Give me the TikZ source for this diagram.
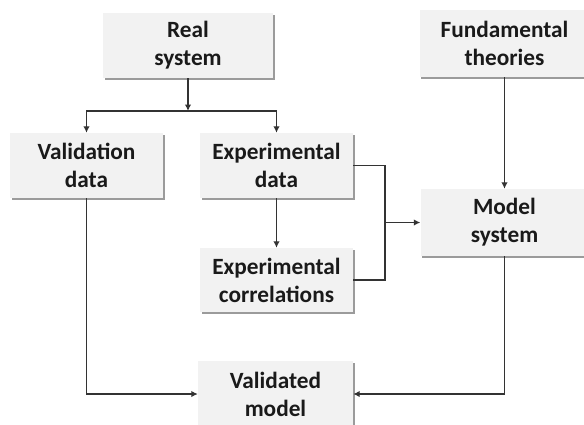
\documentclass[tikz,border=0pt]{standalone}
\usepackage{fontspec}
\setmainfont{Carlito}
\usetikzlibrary{arrows.meta,shadows}
\definecolor{boxfill}{HTML}{F2F2F2}
\definecolor{linec}{HTML}{333333}
\definecolor{textc}{HTML}{1A1A1A}
\begin{document}
\begin{tikzpicture}[x=1pt,y=-1pt,
  box/.style={rectangle, fill=boxfill, draw=none, inner sep=0pt, align=center,
    text=textc, font=\bfseries\fontsize{23.3}{28}\selectfont,
    drop shadow={shadow xshift=1.8pt, shadow yshift=-2pt, fill=black!65, opacity=0.6}},
  conn/.style={draw=linec, line width=1.6pt},
  arr/.style={conn, -{Latex[length=6.5pt,width=6.5pt]}}]
\useasboundingbox (0,0) rectangle (584,424);
\node[box, minimum width=170pt, minimum height=65pt] (real) at (188,45.5) {Real\\system};
\node[box, minimum width=170pt, minimum height=67pt] (fund) at (504.5,43.5) {Fundamental\\theories};
\node[box, minimum width=153pt, minimum height=65pt] (valid) at (86.5,165.5) {Validation\\data};
\node[box, minimum width=153pt, minimum height=65pt] (expd) at (276.5,165.5) {Experimental\\data};
\node[box, minimum width=153pt, minimum height=64pt] (corr) at (276.5,280) {Experimental\\correlations};
\node[box, minimum width=168pt, minimum height=67pt] (model) at (504.5,222.5) {Model\\system};
\node[box, minimum width=155pt, minimum height=66pt] (vmodel) at (275.5,394) {Validated\\model};
\coordinate (j1) at (188,111);
\coordinate (j2) at (385,222.5);
\draw[arr] (real.south) -- (j1);
\draw[arr] (j1) -| (valid.north);
\draw[arr] (j1) -| (expd.north);
\draw[arr] (expd.south) -- (corr.north);
\draw[conn] (expd.east) -| (j2);
\draw[conn] (corr.east) -| (j2);
\draw[arr] (j2) -- (model.west);
\draw[arr] (fund.south) -- (model.north);
\draw[arr] (valid.south) |- (vmodel.west);
\draw[arr] (model.south) |- (vmodel.east);
\end{tikzpicture}
\end{document}
